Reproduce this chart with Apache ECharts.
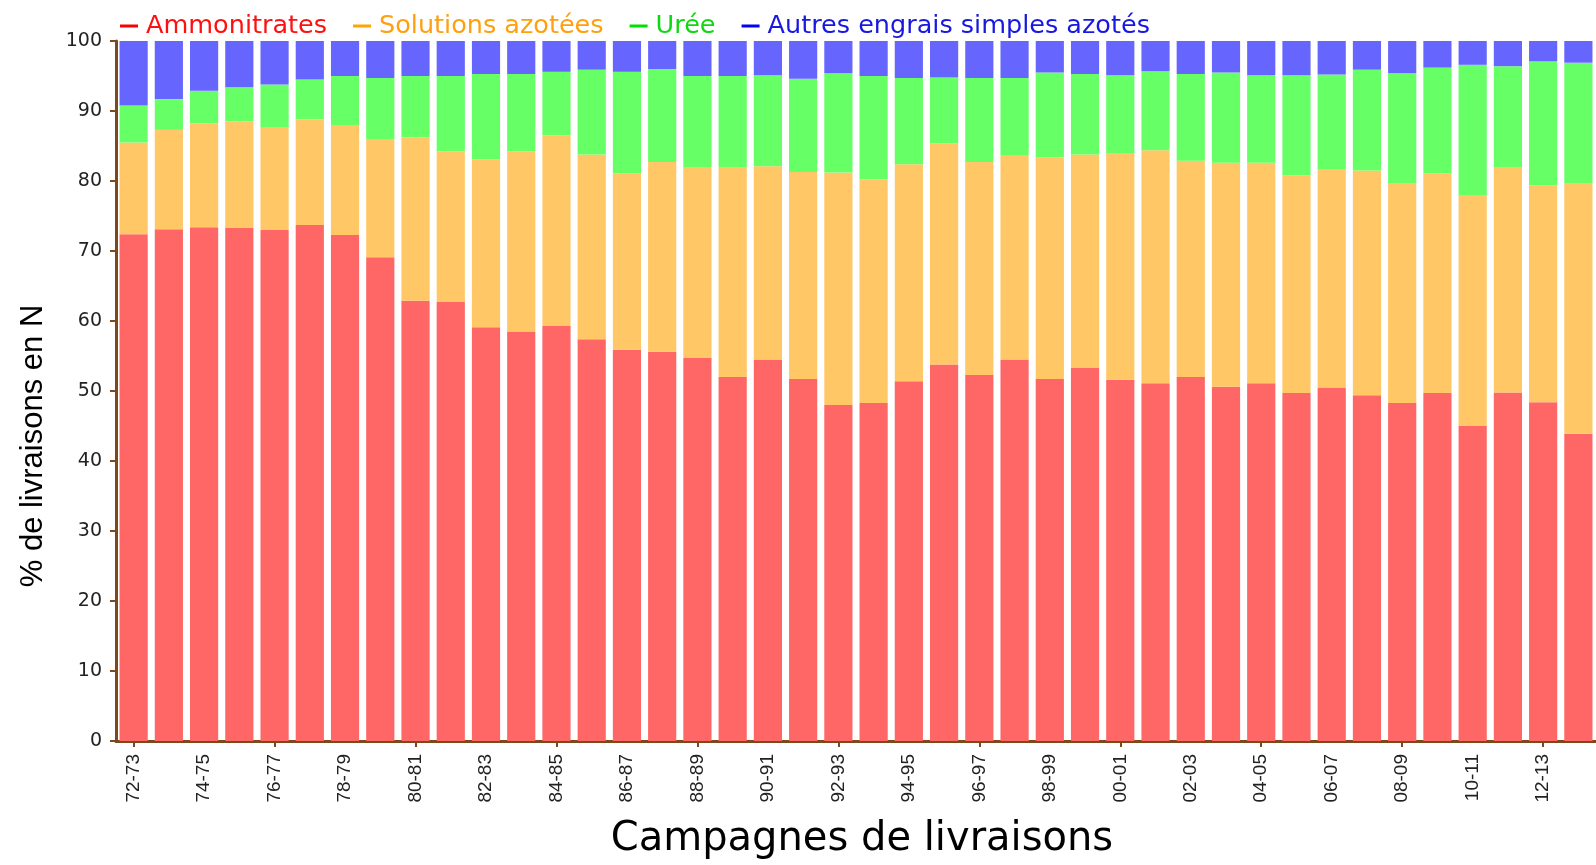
<!DOCTYPE html>
<html>
<head>
<meta charset="utf-8">
<title>Livraisons d'engrais azotés</title>
<script src="https://cdn.jsdelivr.net/npm/echarts/dist/echarts.min.js"></script>
<style>
  html, body { margin: 0; padding: 0; background: #fff; }
  #mychart { width: 1596px; height: 865px; }
</style>
</head>
<body>
<div id="mychart"></div>
<script>
// campagnes 72-73 .. 13-14
let campagnes = [
  '72-73','73-74','74-75','75-76','76-77','77-78','78-79','79-80','80-81','81-82',
  '82-83','83-84','84-85','85-86','86-87','87-88','88-89','89-90','90-91','91-92',
  '92-93','93-94','94-95','95-96','96-97','97-98','98-99','99-00','00-01','01-02',
  '02-03','03-04','04-05','05-06','06-07','07-08','08-09','09-10','10-11','11-12',
  '12-13','13-14'
];

// % de livraisons en N, par forme d'engrais
let ammonitrates = [
  72.4, 73.1, 73.4, 73.3, 73.0, 73.7, 72.3, 69.1, 62.9, 62.7,
  59.1, 58.5, 59.3, 57.4, 55.9, 55.6, 54.7, 52.0, 54.5, 51.7,
  48.0, 48.3, 51.4, 53.8, 52.3, 54.5, 51.7, 53.3, 51.6, 51.1,
  52.0, 50.6, 51.1, 49.7, 50.5, 49.4, 48.3, 49.7, 45.0, 49.8,
  48.4, 43.9
];
let solutions = [
  13.1, 14.2, 14.8, 15.2, 14.6, 15.1, 15.7, 16.8, 23.3, 21.5,
  24.0, 25.7, 27.2, 26.4, 25.2, 27.1, 27.2, 29.9, 27.6, 29.6,
  33.2, 31.9, 31.0, 31.6, 30.4, 29.2, 31.7, 30.5, 32.4, 33.3,
  30.9, 32.0, 31.5, 31.1, 31.2, 32.1, 31.3, 31.4, 33.0, 32.2,
  31.0, 35.8
];
let uree = [
  5.3, 4.4, 4.7, 4.9, 6.2, 5.7, 7.0, 8.8, 8.8, 10.8,
  12.2, 11.1, 9.1, 12.1, 14.5, 13.3, 13.1, 13.1, 13.0, 13.3,
  14.2, 14.8, 12.3, 9.4, 12.0, 11.0, 12.1, 11.5, 11.1, 11.3,
  12.4, 12.9, 12.5, 14.3, 13.5, 14.4, 15.8, 15.1, 18.6, 14.4,
  17.7, 17.2
];
let autres = [
  9.2, 8.3, 7.1, 6.6, 6.2, 5.5, 5.0, 5.3, 5.0, 5.0,
  4.7, 4.7, 4.4, 4.1, 4.4, 4.0, 5.0, 5.0, 4.9, 5.4,
  4.6, 5.0, 5.3, 5.2, 5.3, 5.3, 4.5, 4.7, 4.9, 4.3,
  4.7, 4.5, 4.9, 4.9, 4.8, 4.1, 4.6, 3.8, 3.4, 3.6,
  2.9, 3.1
];

let brown = '#7b4a1c';

let myChart = echarts.init(document.getElementById('mychart'));

let option = {
  backgroundColor: '#ffffff',
  animation: false,
  legend: {
    left: 115,
    top: 8,
    itemWidth: 18,
    itemHeight: 3,
    itemGap: 26,
    icon: 'rect',
    textStyle: { fontFamily: 'DejaVu Sans', fontSize: 25.5, padding: [0, 0, 0, 3] },
    data: [
      { name: 'Ammonitrates', itemStyle: { color: '#ff0000' }, textStyle: { color: '#ff1010' } },
      { name: 'Solutions azotées', itemStyle: { color: '#ffa500' }, textStyle: { color: '#ffa010' } },
      { name: 'Urée', itemStyle: { color: '#00e000' }, textStyle: { color: '#10d810' } },
      { name: 'Autres engrais simples azotés', itemStyle: { color: '#0000ff' }, textStyle: { color: '#1818e0' } }
    ]
  },
  grid: {
    left: 116,
    right: -12,
    top: 41,
    bottom: 123,
    containLabel: false
  },
  xAxis: {
    type: 'category',
    data: campagnes,
    name: 'Campagnes de livraisons',
    nameLocation: 'middle',
    nameGap: 79,
    nameTextStyle: { fontFamily: 'DejaVu Sans', fontSize: 40, color: '#000', padding: [0, 0, 0, 12] },
    axisLine: { show: true, lineStyle: { color: brown, width: 3 } },
    axisTick: { show: true, alignWithLabel: true, interval: 3, length: 6, lineStyle: { color: brown, width: 2 } },
    axisLabel: {
      interval: 1,
      rotate: 90,
      margin: 13,
      fontFamily: 'Liberation Sans',
      fontSize: 19,
      color: '#222'
    }
  },
  yAxis: {
    type: 'value',
    min: 0,
    max: 100,
    interval: 10,
    name: '% de livraisons en N',
    nameLocation: 'middle',
    nameGap: 67,
    nameTextStyle: { fontFamily: 'Liberation Sans', fontSize: 31, color: '#000', padding: [0, 110, 0, 0] },
    axisLine: { show: true, lineStyle: { color: brown, width: 3 } },
    axisTick: { show: true, length: 6, lineStyle: { color: brown, width: 2 } },
    axisLabel: { margin: 14, fontFamily: 'DejaVu Sans', fontSize: 19, color: '#222' },
    splitLine: { show: false }
  },
  series: [
    { name: 'Ammonitrates', type: 'bar', stack: 'n', barCategoryGap: '20%', itemStyle: { color: '#ff6666' }, data: ammonitrates },
    { name: 'Solutions azotées', type: 'bar', stack: 'n', itemStyle: { color: '#ffc766' }, data: solutions },
    { name: 'Urée', type: 'bar', stack: 'n', itemStyle: { color: '#66ff66' }, data: uree },
    { name: 'Autres engrais simples azotés', type: 'bar', stack: 'n', itemStyle: { color: '#6666ff' }, data: autres }
  ]
};

myChart.setOption(option, true);
</script>
</body>
</html>
